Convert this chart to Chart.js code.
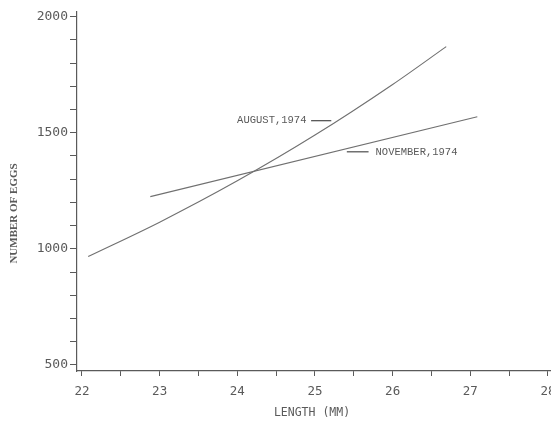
<!DOCTYPE html>
<html>
<head>
<meta charset="utf-8">
<script src="https://cdn.jsdelivr.net/npm/chart.js@4/dist/chart.umd.min.js"></script>
<style>
  html, body { margin: 0; padding: 0; background: #fff; }
  #wrap { width: 551px; height: 421px; }
</style>
</head>
<body>
<div id="wrap"><canvas id="eggChart" width="551" height="421"></canvas></div>
<script>
// Values (length in mm, number of eggs)
const augustLength = [22.08, 23, 24, 25, 26, 26.69];
const augustEggs = [967, 1115, 1293, 1490, 1708, 1871];
const novemberLength = [22.88, 27.09];
const novemberEggs = [1225, 1569];

// Tick values
const xTickValues = [22, 22.5, 23, 23.5, 24, 24.5, 25, 25.5, 26, 26.5, 27, 27.5, 28];
const yTickValues = [500, 600, 700, 800, 900, 1000, 1100, 1200, 1300, 1400, 1500, 1600, 1700, 1800, 1900, 2000];

// Line labels with short leader strokes (data coords)
const seriesLabels = [
    { text: 'AUGUST,1974', textX: 24.89, align: 'right', y: 1552, lineFrom: 24.95, lineTo: 25.21 },
    { text: 'NOVEMBER,1974', textX: 25.78, align: 'left', y: 1418, lineFrom: 25.41, lineTo: 25.69 }
];

const inkColor = '#5a5a5a';
const monoFont = '"DejaVu Sans Mono", monospace';

function toPoints(xs, ys) {
    return xs.map((x, i) => ({ x: x, y: ys[i] }));
}

// Draws axis titles and the series labels
const labelPlugin = {
    id: 'labelPlugin',
    afterDraw(chart) {
        const ctx = chart.ctx;
        const area = chart.chartArea;
        const xs = chart.scales.x;
        const ys = chart.scales.y;
        ctx.save();
        ctx.fillStyle = inkColor;
        ctx.strokeStyle = inkColor;

        // series labels
        ctx.font = '10.5px "Liberation Mono", monospace';
        ctx.textBaseline = 'middle';
        seriesLabels.forEach(lbl => {
            const py = ys.getPixelForValue(lbl.y);
            ctx.textAlign = lbl.align;
            ctx.fillText(lbl.text, xs.getPixelForValue(lbl.textX), py);
            ctx.lineWidth = 1.3;
            ctx.beginPath();
            ctx.moveTo(xs.getPixelForValue(lbl.lineFrom), py);
            ctx.lineTo(xs.getPixelForValue(lbl.lineTo), py);
            ctx.stroke();
        });

        // x axis title
        ctx.font = '11.5px ' + monoFont;
        ctx.textAlign = 'center';
        ctx.fillText('LENGTH (MM)', 312, area.bottom + 42);

        // y axis title
        ctx.font = 'bold 11px "Liberation Serif", serif';
        ctx.translate(area.left - 63, (area.top + area.bottom) / 2 + 22);
        ctx.rotate(-Math.PI / 2);
        ctx.fillText('NUMBER OF EGGS', 0, 0);
        ctx.restore();
    }
};

const ctx = document.getElementById('eggChart').getContext('2d');
const eggChart = new Chart(ctx, {
    type: 'scatter',
    data: {
        datasets: [
            {
                label: 'August, 1974',
                data: toPoints(augustLength, augustEggs),
                showLine: true,
                borderColor: '#707070',
                borderWidth: 1.1,
                pointRadius: 0,
                cubicInterpolationMode: 'monotone'
            },
            {
                label: 'November, 1974',
                data: toPoints(novemberLength, novemberEggs),
                showLine: true,
                borderColor: '#707070',
                borderWidth: 1.1,
                pointRadius: 0
            }
        ]
    },
    options: {
        responsive: false,
        animation: false,
        layout: { padding: { top: 12, right: 1, left: 0, bottom: 0 } },
        plugins: {
            legend: { display: false },
            tooltip: { enabled: false }
        },
        scales: {
            x: {
                type: 'linear',
                min: 21.936,
                max: 28.026,
                afterFit(scale) {
                    scale.height = 50;
                    scale.paddingLeft = 0;
                    scale.paddingRight = 0;
                },
                afterBuildTicks(scale) {
                    scale.ticks = xTickValues.map(v => ({ value: v }));
                },
                border: { color: inkColor, width: 1.2 },
                grid: {
                    drawOnChartArea: false,
                    drawTicks: true,
                    tickLength: 5,
                    tickColor: inkColor
                },
                ticks: {
                    color: inkColor,
                    font: { family: monoFont, size: 12.5 },
                    padding: 8,
                    maxRotation: 0,
                    autoSkip: false,
                    callback: v => (Number.isInteger(v) ? String(v) : '')
                }
            },
            y: {
                type: 'linear',
                min: 474,
                max: 2020,
                afterFit(scale) {
                    scale.width = 77;
                    scale.paddingTop = 0;
                    scale.paddingBottom = 0;
                },
                afterBuildTicks(scale) {
                    scale.ticks = yTickValues.map(v => ({ value: v }));
                },
                border: { color: inkColor, width: 1.2 },
                grid: {
                    drawOnChartArea: false,
                    drawTicks: true,
                    tickLength: 7,
                    tickColor: inkColor
                },
                ticks: {
                    color: inkColor,
                    font: { family: monoFont, size: 13 },
                    padding: 2,
                    autoSkip: false,
                    callback: v => (v % 500 === 0 ? String(v) : '')
                }
            }
        }
    },
    plugins: [labelPlugin]
});
</script>
</body>
</html>
